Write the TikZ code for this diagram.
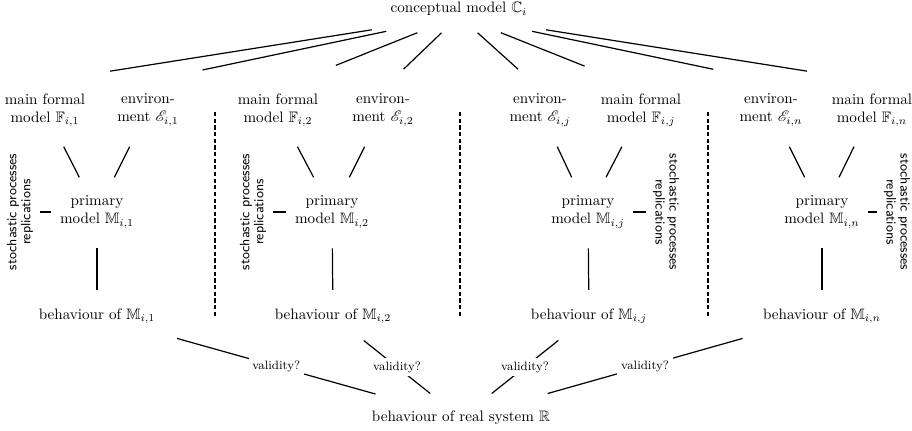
\documentclass[tikz,border=0pt]{standalone}
\usepackage{amsmath, amssymb}
\usepackage{mathrsfs}
\usepackage{tikz}
\usetikzlibrary{calc}

\begin{document}
\begin{tikzpicture}[
  x=0.661pt, y=-0.661pt,
  model/.style={align=center, inner sep=3pt},
  side/.style={align=center, inner sep=2pt,
    font=\sffamily\fontsize{9}{9.2}\selectfont},
  link/.style={line width=0.8pt},
  tick/.style={line width=0.8pt, shorten <=2.5pt, shorten >=2.5pt},
  divider/.style={line width=0.8pt, dash pattern=on 2.8pt off 1.6pt},
  check/.style={font=\footnotesize, fill=white, inner sep=2.5pt}
]
\useasboundingbox (0,0) rectangle (912,431);

% --- conceptual model and real system ---
\node[inner sep=0pt] (C) at (459,9) {conceptual model $\mathbb{C}_i$};
\node (R) at (461,418) {behaviour of real system $\mathbb{R}$};

% --- formal models and environments ---
\node[model] (F1) at (45,110) {main formal\\model $\mathbb{F}_{i,1}$};
\node[model] (E1) at (148,110) {environ-\\ment $\mathscr{E}_{i,1}$};
\node[model] (F2) at (278,110) {main formal\\model $\mathbb{F}_{i,2}$};
\node[model] (E2) at (383,110) {environ-\\ment $\mathscr{E}_{i,2}$};
\node[model] (Ej) at (540,110) {environ-\\ment $\mathscr{E}_{i,j}$};
\node[model] (Fj) at (641,110) {main formal\\model $\mathbb{F}_{i,j}$};
\node[model] (En) at (771,110) {environ-\\ment $\mathscr{E}_{i,n}$};
\node[model] (Fn) at (872,110) {main formal\\model $\mathbb{F}_{i,n}$};

% --- primary models ---
\node[model] (P1) at (97,212) {primary\\model $\mathbb{M}_{i,1}$};
\node[model] (P2) at (332,212) {primary\\model $\mathbb{M}_{i,2}$};
\node[model] (Pj) at (588,212) {primary\\model $\mathbb{M}_{i,j}$};
\node[model] (Pn) at (822,212) {primary\\model $\mathbb{M}_{i,n}$};

% --- side notes ---
\node[side, rotate=90] (S1) at (20,212) {stochastic processes\\replications};
\node[side, rotate=90] (S2) at (253,212) {stochastic processes\\replications};
\node[side, rotate=-90] (Sj) at (666,212) {stochastic processes\\replications};
\node[side, rotate=-90] (Sn) at (897,212) {stochastic processes\\replications};

% --- behaviours ---
\node (B1) at (97,316) {behaviour of $\mathbb{M}_{i,1}$};
\node (B2) at (333,316) {behaviour of $\mathbb{M}_{i,2}$};
\node (Bj) at (589,316) {behaviour of $\mathbb{M}_{i,j}$};
\node (Bn) at (822,316) {behaviour of $\mathbb{M}_{i,n}$};

% --- fan from the conceptual model ---
\foreach \dest/\a/\b in {F1.north west/0.19/0.76, E1.north west/0.21/0.74,
    F2.north/0.23/0.68, E2.north/0.23/0.73, Ej.north/0.23/0.73,
    Fj.north/0.23/0.69, En.north east/0.21/0.73, Fn.north east/0.19/0.76}
  \draw[link] ($(C.south)!\a!(\dest)$) -- ($(C.south)!\b!(\dest)$);

% --- into the primary models ---
\foreach \src/\dst in {F1/P1, E1/P1, F2/P2, E2/P2, Ej/Pj, Fj/Pj, En/Pn, Fn/Pn}
  \draw[link] ($(\src)!0.36!(\dst)$) -- ($(\src)!0.66!(\dst)$);

\foreach \p/\q in {P1/B1, P2/B2, Pj/Bj, Pn/Bn}
  \draw[link] ($(\p)!0.35!(\q)$) -- ($(\p)!0.75!(\q)$);

% --- side ticks ---
\draw[tick] (S1.south) -- (P1.west);
\draw[tick] (S2.south) -- (P2.west);
\draw[tick] (Pj.east) -- (Sj.south);
\draw[tick] (Pn.east) -- (Sn.south);

% --- separators ---
\foreach \x in {215, 460, 708}
  \draw[divider] (\x,112) -- (\x,318);

% --- validation against the real system ---
\foreach \b/\a/\e in {B1/0.22/0.765, B2/0.24/0.76, Bj/0.24/0.76, Bn/0.22/0.76}
  \draw[link] ($(\b)!\a!(R)$) -- node[check] {validity?} ($(\b)!\e!(R)$);

\end{tikzpicture}
\end{document}
